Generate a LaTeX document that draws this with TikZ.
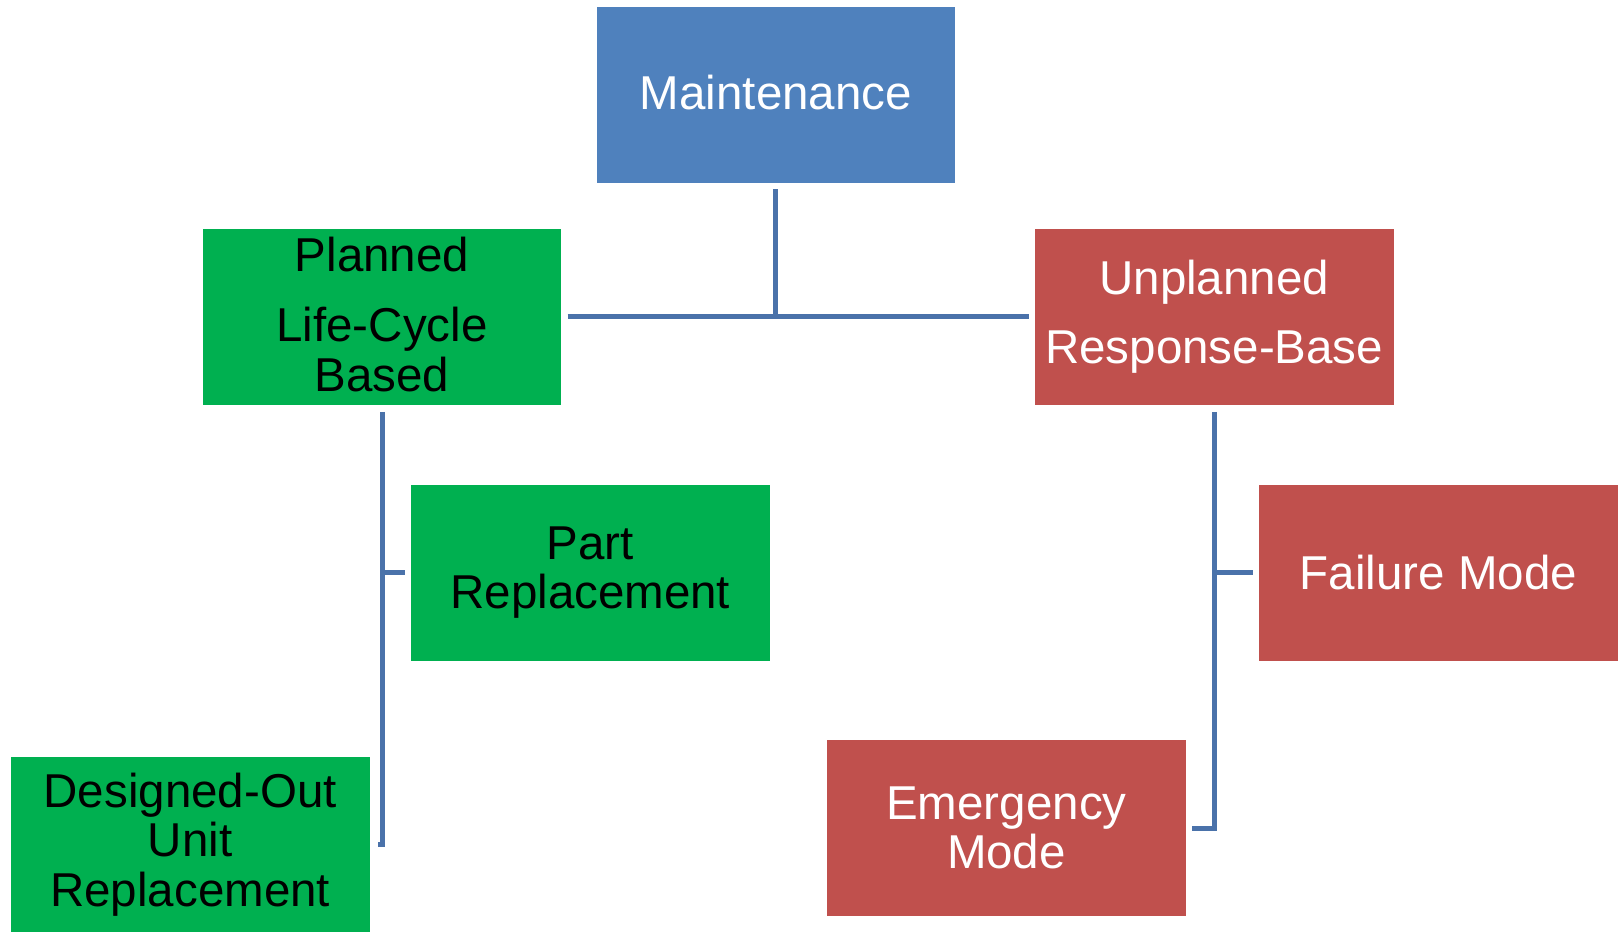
\documentclass[tikz,border=0pt]{standalone}
\usepackage{fontspec}
\setmainfont{Liberation Sans}

\definecolor{topblue}{HTML}{4F81BD}
\definecolor{plangreen}{HTML}{00B050}
\definecolor{unplanred}{HTML}{C0504D}
\definecolor{linkblue}{HTML}{4A72AA}

\begin{document}
\begin{tikzpicture}[
            x = 1pt, y = 1pt,
            box/.style={rectangle, inner sep=0pt, minimum width=358.7pt, minimum height=175.7pt, align=center, font=\fontsize{47.5}{49.5}\selectfont},
            line/.style={draw=linkblue, line width = 5pt},
            ]
        \useasboundingbox (0,0) rectangle (1621,933);
        % the boxes
        \node[box, fill=topblue, text=white, text depth=6pt] (maint) at (775.9,837.9) {Maintenance};
        \node[box, fill=plangreen, text depth=6pt] (planned) at (382,616.1) {Planned\\[21pt]Life-Cycle\\Based};
        \node[box, fill=unplanred, text=white] (unplanned) at (1214.2,616.1) {Unplanned\\[20pt]Response-Base};
        \node[box, fill=plangreen] (partrep) at (590.3,360.3) {Part\\Replacement};
        \node[box, fill=plangreen] (designout) at (190.2,88.4) {Designed-Out\\Unit\\Replacement};
        \node[box, fill=unplanred, text=white] (failmode) at (1438.5,360.3) {Failure Mode};
        \node[box, fill=unplanred, text=white] (emergmode) at (1006.4,104.9) {Emergency\\Mode};
        % top level
        \draw[line] ([yshift=-6pt]maint.south) -- (maint.south |- planned.east);
        \draw[line] ([xshift=6pt]planned.east) -- ([xshift=-6pt]unplanned.west);
        % planned branch
        \draw[line] ([yshift=-7pt]planned.south) -- (planned.south |- designout.east) -- ([xshift=8pt]designout.east);
        \draw[line] ([xshift=-6pt]partrep.west) -- (partrep.west -| planned.south);
        % unplanned branch
        \draw[line] ([yshift=-7pt]unplanned.south) -- (unplanned.south |- emergmode.east) -- ([xshift=6pt]emergmode.east);
        \draw[line] ([xshift=-6pt]failmode.west) -- (failmode.west -| unplanned.south);
    \end{tikzpicture}
\end{document}
